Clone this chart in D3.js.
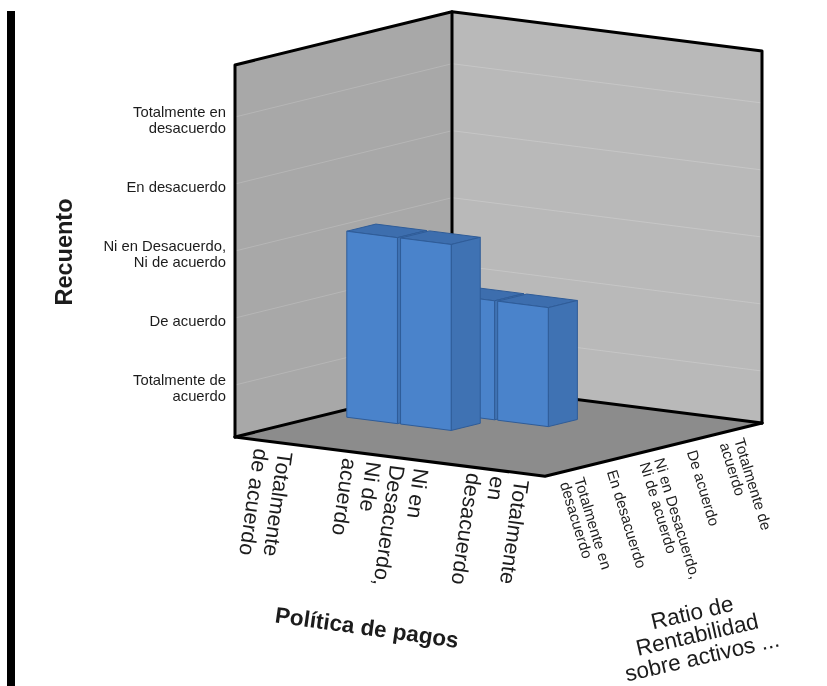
<!DOCTYPE html>
<html><head><meta charset="utf-8">
<script src="https://cdn.jsdelivr.net/npm/d3@7"></script>
<style>html,body{margin:0;padding:0;background:#fff;overflow:hidden}svg{filter:blur(0.4px)}text{font-family:"Liberation Sans",Arial,sans-serif;fill:#1c1c1c}</style>
</head><body><svg id="c" width="827" height="686"></svg>
<script>
// ---- data ----
const levelLabels = [["Totalmente de","acuerdo"],["De acuerdo"],["Ni en Desacuerdo,","Ni de acuerdo"],["En desacuerdo"],["Totalmente en","desacuerdo"]];
const levels = ["TA","DA","NN","ED","TD"];
const politicaLabels = [["Totalmente","de acuerdo"],["Ni en","Desacuerdo,","Ni de","acuerdo"],["Totalmente","en","desacuerdo"]];
const ratioLevels = ["TD","ED","NN","DA","TA"];
const ratioLabels = [["Totalmente en","desacuerdo"],["En desacuerdo"],["Ni en Desacuerdo,","Ni de acuerdo"],["De acuerdo"],["Totalmente de","acuerdo"]];
const barColumn = [0,1,1,2];       // ordinal slot along "Política de pagos"
const barRatio  = ["NN","NN","DA","DA"];
const barCount  = ["NN","NN","DA","DA"];
const yTitle = "Recuento", xTitle = "Política de pagos", zTitle = ["Ratio de","Rentabilidad","sobre activos ..."];

// ---- scales & axonometric projection ----
const O = [235,437], U = [310,39.3], V = [217,-53.3];
const y = d3.scalePoint().domain(levels).range([437,65]).padding(0.776);
const uPos = d3.scaleLinear().domain([0,3]).range([0,1]);
const vLabel = d3.scalePoint().domain(ratioLevels).range([0.114,0.851]);
const slot = d3.scaleLinear().domain([0,1]).range([0.2,0.72]);
const P = (u,v,py=437)=>[O[0]+U[0]*u+V[0]*v, O[1]+U[1]*u+V[1]*v-(437-py)];
const line = d3.line();
const poly = pts=>line(pts)+"Z";

const svg = d3.select("#c");
svg.append("rect").attr("x",7).attr("y",11).attr("width",8).attr("height",675).attr("fill","#000");

// walls & floor
svg.append("path").attr("d",poly([P(0,0,65),P(0,1,65),P(0,1,437),P(0,0,437)])).attr("fill","#a8a8a8");
svg.append("path").attr("d",poly([P(0,1,65),P(1,1,65),P(1,1,437),P(0,1,437)])).attr("fill","#b9b9b9");
svg.append("path").attr("d",poly([P(0,0),P(1,0),P(1,1),P(0,1)])).attr("fill","#8c8c8c");
// gridlines
levels.forEach(l=>{
  svg.append("path").attr("d",line([P(0,0,y(l)),P(0,1,y(l))])).attr("fill","none").attr("stroke","#b6b6b6").attr("stroke-width",1);
  svg.append("path").attr("d",line([P(0,1,y(l)),P(1,1,y(l))])).attr("fill","none").attr("stroke","#c6c6c6").attr("stroke-width",1);
});
// frame
const frame = [[P(0,0,437),P(0,0,65),P(0,1,65),P(1,1,65),P(1,1,437)],[P(0,1,65),P(0,1,437)],[P(0,0),P(0,1),P(1,1)],[P(0,0),P(1,0),P(1,1)]];
frame.forEach(f=>svg.append("path").attr("d",line(f)).attr("fill","none").attr("stroke","#000").attr("stroke-width",3).attr("stroke-linejoin","round").attr("stroke-linecap","round"));

// bars
const bw = 0.49, bd = 0.67;
const bars = barColumn.map((c,i)=>({u:uPos(slot(c)),v:(ratioLevels.indexOf(barRatio[i])+0.1)/5,top:y(barCount[i])}))
  .sort((a,b)=>d3.descending(a.v,b.v)||d3.ascending(a.u,b.u));
const W = uPos(bw), D = bd/5;
const barG = svg.append("g").attr("stroke","#2f5c98").attr("stroke-width",1).attr("stroke-linejoin","round");
bars.forEach(b=>{
  const g = barG.append("g");
  g.append("path").attr("fill","#3d6eae").attr("d",poly([P(b.u,b.v,b.top),P(b.u+W,b.v,b.top),P(b.u+W,b.v+D,b.top),P(b.u,b.v+D,b.top)]));
  g.append("path").attr("fill","#3f72b3").attr("d",poly([P(b.u+W,b.v,b.top),P(b.u+W,b.v+D,b.top),P(b.u+W,b.v+D),P(b.u+W,b.v)]));
  g.append("path").attr("fill","#4a83cb").attr("d",poly([P(b.u,b.v,b.top),P(b.u+W,b.v,b.top),P(b.u+W,b.v),P(b.u,b.v)]));
});

// y tick labels
levels.forEach((l,i)=>{
  const lines = levelLabels[i];
  lines.forEach((s,k)=>svg.append("text").attr("text-anchor","end").attr("font-size",14.8)
    .attr("x",226).attr("y",y(l)+8+(k-(lines.length-1)/2)*16.4).text(s));
});
// helper for rotated multi-line block
function block(x,yy,rot,lines,fs,lh,anchor,start,weight){
  const g = svg.append("g").attr("transform",`translate(${x},${yy}) rotate(${rot})`);
  lines.forEach((s,k)=>g.append("text").attr("x",start).attr("y",(k-(lines.length-1)/2)*lh+fs*0.36)
    .attr("text-anchor",anchor).attr("font-size",fs).attr("font-weight",weight||"normal").text(s));
}
// x tick labels
politicaLabels.forEach((ls,i)=>{
  const p = P(uPos(i+0.5),0);
  block(p[0]-12+i*9,p[1],98,ls,21.5,24,"start",7);
});
// z tick labels
ratioLabels.forEach((ls,i)=>{
  const p = P(1,vLabel(ratioLevels[i]));
  block(p[0],p[1]+2,73,ls,15.2,15,"start",8);
});
// titles
block(63.5,252,-90,[yTitle],23.5,24,"middle",0,"bold");
block(367,627,8,[xTitle],22.5,24,"middle",0,"bold");
block(697,634,-13,zTitle,22.5,22.5,"middle",0);
</script></body></html>
